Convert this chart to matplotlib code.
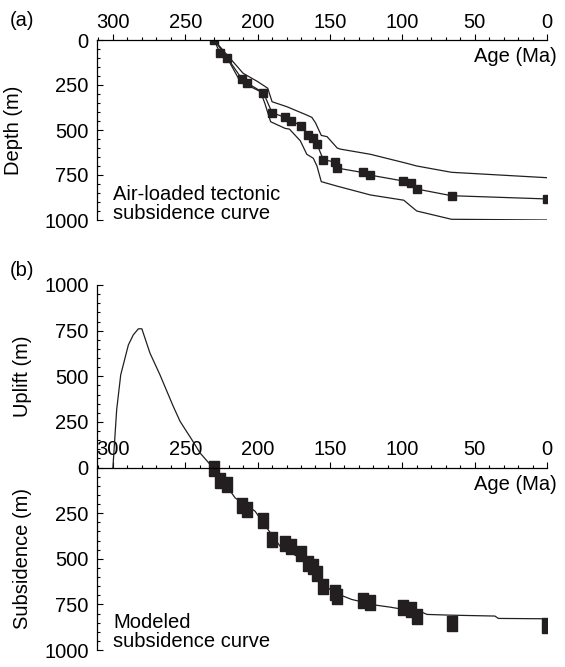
import numpy as np
import matplotlib
matplotlib.use("Agg")
import matplotlib.pyplot as plt
from matplotlib.ticker import MultipleLocator, FuncFormatter
import matplotlib.transforms as mtransforms

plt.rcParams['font.family'] = ['Liberation Sans', 'DejaVu Sans']
plt.rcParams['font.size'] = 14.5

# Ages of the backstripped horizons (Ma)
ages = [230, 226, 221, 211, 207, 196, 190, 181, 177, 170, 165, 161.5, 159,
        154.6, 146.5, 145.3, 127.5, 122, 99.5, 94, 90, 66, 0]

# (a) air-loaded tectonic subsidence (m)
tect_depth = [0, 74, 98, 215, 240, 293, 404, 430, 448, 476, 526, 543, 578,
              665, 678, 711, 736, 751, 783, 796, 828, 865, 883]

# envelope curves around the tectonic subsidence
upper_age = [230, 220, 210, 200, 193, 190, 180, 177, 166, 162.5, 160, 156,
             152, 145, 143, 122, 97, 90, 66, 0]
upper_depth = [0, 93, 185, 231, 268, 343, 370, 380, 417, 430, 460, 530,
               537, 600, 606, 635, 685, 700, 735, 765]
lower_age = [230, 221, 212, 198, 195, 191, 181, 178, 170.5, 166, 161.5, 159,
             156, 145, 122, 99, 95, 90, 66, 0]
lower_depth = [0, 100, 231, 287, 352, 454, 491, 495, 560, 635, 657, 700,
               787, 812, 861, 890, 917, 950, 996, 1000]

# (b) subsidence data used for the model (m)
obs_sub = [0, 66, 93, 208, 230, 285, 391, 413, 431, 468, 522, 541, 577,
           647, 683, 705, 727, 738, 765, 778, 815, 851, 864]

# modeled curve: negative = uplift, positive = subsidence
model_age = [300, 297.4, 294.6, 289.3, 285.9, 282.4, 280, 274.4, 267.5,
             258.3, 253.6, 245.5, 239.8, 231, 225, 215.6, 201.8, 193.7,
             184.5, 170, 159, 150, 140.8, 135, 117.7, 108.5, 85.5, 83, 67,
             36, 33.6, 0]
model_val = [0, -317, -508, -672, -727, -760, -760, -627, -508, -335, -253,
             -153, -80, 0, 60, 166, 239, 330, 431, 500, 604, 668, 705, 723,
             755, 765, 796, 805, 809, 814, 827, 829]

dark = '#231f20'
xlim = (311, 0)

fig = plt.figure(figsize=(5.65, 6.67), dpi=100)
ax1 = fig.add_axes([97 / 565, 1 - 220 / 667, 450 / 565, 180 / 667])
ax2 = fig.add_axes([97 / 565, 1 - 650 / 667, 450 / 565, 365 / 667])


def style_axis(ax):
    ax.set_xlim(*xlim)
    ax.xaxis.set_major_locator(MultipleLocator(50))
    ax.xaxis.set_minor_locator(MultipleLocator(10))
    ax.yaxis.set_major_locator(MultipleLocator(250))
    ax.yaxis.set_minor_locator(MultipleLocator(50))
    ax.xaxis.set_ticks_position('top')
    ax.spines['right'].set_visible(False)
    ax.spines['bottom'].set_visible(False)
    for s in ['left', 'top']:
        ax.spines[s].set_linewidth(0.9)
    ax.tick_params(axis='x', which='major', direction='out', length=4,
                   width=0.8, pad=2)
    ax.tick_params(axis='x', which='minor', direction='out', length=2.5,
                   width=0.8)
    ax.tick_params(axis='y', which='major', direction='in', length=4,
                   width=0.8, pad=6)
    ax.tick_params(axis='y', which='minor', direction='in', length=2.5,
                   width=0.8)


# Panel (a)
style_axis(ax1)
ax1.set_ylim(1000, 0)
ax1.plot(upper_age, upper_depth, color=dark, lw=0.9)
ax1.plot(lower_age, lower_depth, color=dark, lw=0.9)
ax1.plot(ages, tect_depth, color=dark, lw=0.9, marker='s', ms=6,
         mec=dark, mfc=dark)
ax1.set_ylabel('Depth (m)')
ax1.yaxis.set_label_coords(-0.165, 0.5)
ax1.annotate('Age (Ma)', xy=(1, 1), xycoords='axes fraction',
             xytext=(7, -12), textcoords='offset points',
             ha='right', va='center')
ax1.text(300, 805, 'Air-loaded tectonic\nsubsidence curve', ha='left',
         va='top', linespacing=1.0)
fig.text(10 / 565, 1 - 20 / 667, '(a)', ha='left', va='center')

# Panel (b)
style_axis(ax2)
ax2.set_ylim(1000, -1000)
ax2.spines['top'].set_position(('data', 0))
ax2.yaxis.set_major_formatter(FuncFormatter(lambda v, p: '%d' % abs(v)))
box = [(-1, -1.5), (1, -1.5), (1, 1.5), (-1, 1.5), (-1, -1.5)]
ax2.plot(model_age, model_val, color=dark, lw=0.9)
ax2.plot(ages, obs_sub, ls='none', marker=box, ms=10.8, mec=dark, mfc=dark)
trans = mtransforms.blended_transform_factory(ax2.transAxes, ax2.transData)
ax2.text(-0.165, -500, 'Uplift (m)', rotation=90, ha='center', va='center',
         transform=trans)
ax2.text(-0.165, 500, 'Subsidence (m)', rotation=90, ha='center',
         va='center', transform=trans)
ax2.annotate('Age (Ma)', xy=(1, 0), xycoords=trans,
             xytext=(7, -12), textcoords='offset points',
             ha='right', va='center')
ax2.text(300, 795, 'Modeled\nsubsidence curve', ha='left', va='top',
         linespacing=1.0)
fig.text(10 / 565, 1 - 270 / 667, '(b)', ha='left', va='center')

fig.savefig('out.png', dpi=100, facecolor='white')
